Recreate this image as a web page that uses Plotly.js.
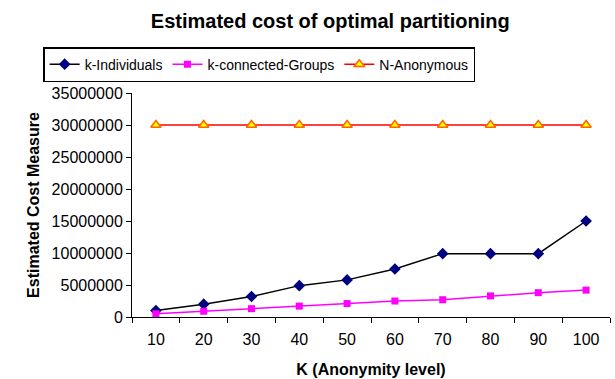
<!DOCTYPE html>
<html>
<head>
<meta charset="utf-8">
<script src="https://cdn.plot.ly/plotly-3.0.1.min.js"></script>
<style>html,body{margin:0;padding:0;background:#fff;}#chart{width:615px;height:379px;}</style>
</head>
<body>
<div id="chart"></div>
<script>
const categories = ["10","20","30","40","50","60","70","80","90","100"];
const kIndividuals = [1000000, 2000000, 3200000, 4900000, 5800000, 7500000, 9900000, 9900000, 9900000, 15000000];
const kConnectedGroups = [500000, 900000, 1300000, 1700000, 2100000, 2500000, 2700000, 3300000, 3800000, 4200000];
const nAnonymous = [30000000, 30000000, 30000000, 30000000, 30000000, 30000000, 30000000, 30000000, 30000000, 30000000];
const yTicks = [0, 5000000, 10000000, 15000000, 20000000, 25000000, 30000000, 35000000];

const font = "Liberation Sans, Arial, sans-serif";
const traces = [
  {x: categories, y: kIndividuals, name: "k-Individuals", type: "scatter", mode: "lines+markers",
   line: {color: "#000000", width: 1.5}, marker: {symbol: "diamond", size: 9, color: "#000080"}},
  {x: categories, y: kConnectedGroups, name: "k-connected-Groups", type: "scatter", mode: "lines+markers",
   line: {color: "#ff00ff", width: 1.5}, marker: {symbol: "square", size: 7, color: "#ff00ff"}},
  {x: categories, y: nAnonymous, name: "N-Anonymous", type: "scatter", mode: "lines+markers",
   line: {color: "#ff0000", width: 1.5}, marker: {symbol: "triangle-up", size: 9, color: "#ffff00", line: {color: "#ff6600", width: 1.5}}}
];
const layout = {
  width: 615, height: 379,
  margin: {l: 132, r: 5, t: 93, b: 62},
  paper_bgcolor: "#ffffff", plot_bgcolor: "#ffffff",
  font: {family: font, color: "#000000", size: 16},
  showlegend: true,
  title: {text: "<b>Estimated cost of optimal partitioning</b>", font: {size: 20, family: font}, x: 0.537, xanchor: "center", y: 0.945, yanchor: "middle"},
  legend: {orientation: "h", x: 0.266, xanchor: "center", y: 1.205, yanchor: "top",
           bordercolor: "#000000", borderwidth: 1.5, font: {size: 14, family: font}, itemwidth: 30, tracegroupgap: 0},
  xaxis: {type: "category", range: [-0.5, 9.5], tickson: "boundaries", ticks: "outside", ticklen: 5, tickcolor: "#000",
          showline: true, linecolor: "#000", linewidth: 1, showgrid: false, zeroline: false, fixedrange: true,
          ticklabelstandoff: 8, tickfont: {size: 16},
          title: {text: "<b>K (Anonymity level)</b>", font: {size: 16, family: font}, standoff: 16}},
  yaxis: {range: [0, 35000000], tickvals: yTicks, ticktext: yTicks.map(String), ticks: "outside", ticklen: 5, tickcolor: "#000",
          showline: true, linecolor: "#000", linewidth: 1, showgrid: false, zeroline: false, fixedrange: true,
          tickfont: {size: 16},
          title: {text: "<b>Estimated Cost Measure</b>", font: {size: 16, family: font}, standoff: 8}}
};
Plotly.newPlot("chart", traces, layout, {displayModeBar: false, staticPlot: true});
</script>
</body>
</html>
